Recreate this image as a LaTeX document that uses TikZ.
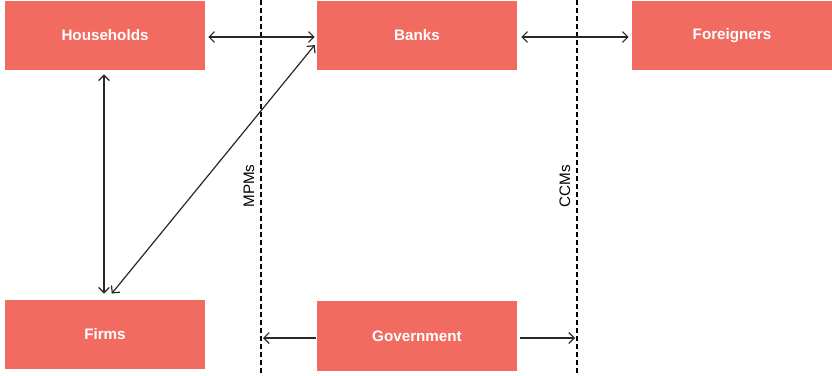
\documentclass[tikz,border=0pt]{standalone}
\usepackage{fontspec}
\setmainfont{Liberation Sans}
\usetikzlibrary{arrows.meta}
\definecolor{boxred}{RGB}{242,107,96}
\definecolor{linegray}{RGB}{40,40,40}
\begin{document}
\begin{tikzpicture}[x=0.75pt,y=-0.75pt,
  box/.style={draw=none,fill=boxred,minimum width=150pt,minimum height=52pt,inner sep=0pt,
    text=white,font=\fontsize{11.4}{13}\selectfont\bfseries},
  conn/.style={draw=linegray,line width=0.9pt,{Straight Barb[length=4pt,width=8pt]}-{Straight Barb[length=4pt,width=8pt]}},
  oneway/.style={draw=linegray,line width=0.9pt,-{Straight Barb[length=4pt,width=8pt]}},
  divider/.style={draw=black,line width=0.9pt,dash pattern=on 3.5pt off 2.5pt},
  lbl/.style={font=\fontsize{11.4}{13}\selectfont,rotate=90,inner sep=0pt}]
\useasboundingbox (0,0) rectangle (832,375);
\fill[white] (0,0) rectangle (832,375);
\node[box] (hh) at (105,35.5) {Households};
\node[box] (banks) at (417,35.5) {Banks};
\node[box] (for) at (732,35.5) {Foreigners};
\node[box] (firms) at (105,334.5) {Firms};
\node[box] (gov) at (417,336) {Government};
\coordinate (mtop) at (261,0);
\coordinate (mbot) at (261,375);
\coordinate (ctop) at (577,0);
\coordinate (cbot) at (577,375);
\draw[divider] (mtop) -- (mbot);
\draw[divider] (ctop) -- (cbot);
\node[lbl] (mpm) at (249,186) {MPMs};
\node[lbl] (ccm) at (565,186) {CCMs};
\draw[conn] ([shift={(3,1.5)}]hh.east) -- ([shift={(-2,1.5)}]banks.west);
\draw[conn] ([shift={(4,1.5)}]banks.east) -- ([shift={(-3,1.5)}]for.west);
\draw[conn] ([shift={(-1,4)}]hh.south) -- ([shift={(-1,-6)}]firms.north);
\draw[conn] ([shift={(107,-6)}]firms.north west) -- ([shift={(-2,9.5)}]banks.west);
\coordinate (gl) at (263,338);
\coordinate (gr) at (575,338);
\draw[oneway] (gov.west |- gl) ++(-1,0) -- (gl);
\draw[oneway] (gov.east |- gr) ++(3,0) -- (gr);
\end{tikzpicture}
\end{document}
